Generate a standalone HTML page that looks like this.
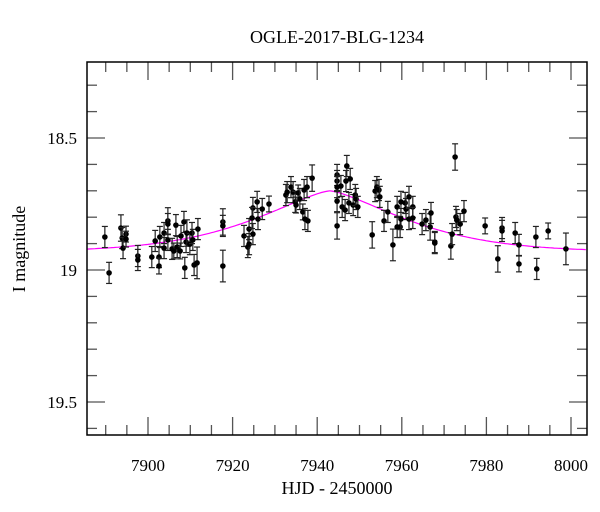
<!DOCTYPE html>
<html><head><meta charset="utf-8"><style>
html,body{margin:0;padding:0;background:#fff;}
svg{display:block;font-family:"Liberation Serif",serif;}
</style></head><body>
<svg id="chart" width="600" height="512" viewBox="0 0 600 512">
<text x="337" y="43" font-size="18" text-anchor="middle">OGLE-2017-BLG-1234</text>
<text x="337" y="494" font-size="18" text-anchor="middle">HJD - 2450000</text>
<text x="0" y="0" font-size="18" text-anchor="middle" transform="translate(25,249) rotate(-90)">I magnitude</text>
<g id="ticks"></g>
<g id="model"></g>
<g id="pts"></g>
<rect x="87" y="62" width="500" height="373" fill="none" stroke="#000" stroke-width="1.5"/>
</svg>
<script>
const days=[7889.8,7890.8,7893.6,7893.9,7894.1,7894.8,7894.8,7897.6,7897.6,7900.9,7901.7,7902.6,7902.6,7902.8,7903.8,7903.8,7904.7,7904.7,7904.7,7905.7,7906.1,7906.6,7906.9,7907.6,7907.8,7908.5,7908.7,7909.0,7909.2,7909.9,7910.4,7910.6,7910.9,7911.6,7911.8,7917.7,7917.7,7917.7,7922.7,7923.6,7923.9,7923.9,7924.8,7924.8,7924.6,7925.8,7926.0,7927.0,7928.6,7932.6,7932.9,7933.8,7934.3,7934.8,7935.0,7935.5,7935.9,7936.6,7936.9,7937.1,7937.6,7937.8,7938.8,7944.7,7944.7,7944.7,7944.7,7944.7,7945.6,7945.9,7946.6,7947.0,7946.8,7947.8,7947.5,7948.5,7949.0,7949.2,7949.6,7953.0,7953.7,7954.1,7954.6,7954.8,7955.8,7956.7,7957.9,7958.9,7958.9,7959.6,7959.8,7959.8,7960.8,7961.0,7961.7,7961.7,7962.6,7962.6,7964.8,7965.7,7966.7,7966.9,7967.8,7967.8,7971.6,7971.9,7972.6,7972.8,7973.0,7973.8,7974.7,7979.7,7982.7,7983.7,7983.7,7986.8,7987.7,7987.7,7991.7,7991.9,7994.6,7998.8];
const mags=[18.875,19.011,18.841,18.879,18.917,18.864,18.883,18.947,18.962,18.951,18.890,18.951,18.985,18.875,18.860,18.917,18.814,18.826,18.886,18.920,18.928,18.830,18.913,18.928,18.871,18.818,18.992,18.894,18.860,18.902,18.860,18.886,18.981,18.973,18.845,18.985,18.818,18.833,18.871,18.913,18.845,18.902,18.864,18.765,18.803,18.742,18.807,18.769,18.750,18.716,18.705,18.686,18.705,18.742,18.754,18.708,18.731,18.780,18.697,18.807,18.686,18.814,18.652,18.640,18.663,18.686,18.739,18.833,18.682,18.761,18.773,18.606,18.663,18.655,18.746,18.754,18.716,18.731,18.761,18.867,18.701,18.686,18.697,18.723,18.814,18.780,18.905,18.761,18.837,18.837,18.742,18.807,18.746,18.769,18.723,18.807,18.761,18.803,18.826,18.811,18.837,18.784,18.894,18.898,18.909,18.864,18.572,18.799,18.811,18.826,18.777,18.833,18.958,18.841,18.852,18.860,18.905,18.977,18.875,18.996,18.852,18.920];
const errs=[0.04,0.04,0.05,0.04,0.04,0.03,0.03,0.04,0.04,0.04,0.04,0.04,0.03,0.04,0.04,0.04,0.05,0.04,0.04,0.04,0.03,0.04,0.04,0.03,0.04,0.04,0.04,0.04,0.05,0.04,0.04,0.04,0.04,0.06,0.04,0.06,0.05,0.04,0.04,0.04,0.04,0.04,0.04,0.04,0.04,0.04,0.04,0.04,0.03,0.04,0.04,0.04,0.04,0.04,0.03,0.03,0.04,0.03,0.04,0.04,0.04,0.04,0.05,0.04,0.04,0.04,0.04,0.05,0.04,0.04,0.04,0.04,0.04,0.04,0.04,0.04,0.04,0.04,0.04,0.05,0.04,0.04,0.04,0.04,0.04,0.04,0.06,0.04,0.04,0.04,0.04,0.04,0.04,0.04,0.04,0.04,0.04,0.04,0.04,0.04,0.05,0.04,0.04,0.04,0.05,0.04,0.05,0.04,0.04,0.04,0.04,0.03,0.05,0.04,0.04,0.04,0.04,0.03,0.04,0.04,0.03,0.06];
const xTickLabels=[7900,7920,7940,7960,7980,8000];
const yTickLabels=[18.5,19,19.5];
const modelT0=[7943];
const modelBase=[18.93];
const modelAmp=[0.23];
const modelWidth=[25];

const NS="http://www.w3.org/2000/svg";
const X0=87,X1=587,Y0=62,Y1=435;
const xs=d=>148+(d-7900)*4.23;
const ys=m=>138+(m-18.5)*264;
function mk(tag,attrs,parent){const e=document.createElementNS(NS,tag);for(const k in attrs)e.setAttribute(k,attrs[k]);parent.appendChild(e);return e;}
const tk=document.getElementById('ticks');
for(let d=7890;d<=8000;d+=5){
  const x=xs(d);if(x<X0||x>X1)continue;
  const major=(d%20===0);const L=major?18:10;
  const a=mk('line',{x1:x,x2:x,y1:Y1,y2:Y1-L,stroke:'#555','stroke-width':1.3},tk);
  
  
  const b=mk('line',{x1:x,x2:x,y1:Y0,y2:Y0+L,stroke:'#555','stroke-width':1.3},tk);
  
  
}
xTickLabels.forEach(v=>{
  const t=mk('text',{x:xs(v),y:471,'font-size':17,'text-anchor':'middle'},tk);t.textContent=v;
  
  
});
for(let i=0;i<=16;i++){
  const m=18.2+i*0.1;const y=ys(m);if(y<Y0+2||y>Y1-2)continue;
  const major=Math.abs(m*2-Math.round(m*2))<1e-6;const L=major?18:10;
  const a=mk('line',{x1:X0,x2:X0+L,y1:y,y2:y,stroke:'#555','stroke-width':1.3},tk);
  
  
  const b=mk('line',{x1:X1,x2:X1-L,y1:y,y2:y,stroke:'#555','stroke-width':1.3},tk);
  
  
}
yTickLabels.forEach(v=>{
  const t=mk('text',{x:77,y:ys(v)+6,'font-size':17,'text-anchor':'end'},tk);t.textContent=v;
  
  
});
let dstr='';
for(let d=7885.5;d<=8003.5;d+=0.5){
  const u=Math.abs(d-modelT0[0])/modelWidth[0];
  const m=modelBase[0]-modelAmp[0]*Math.exp(-Math.pow(u,1.4));
  dstr+=(dstr?'L':'M')+xs(d).toFixed(1)+','+ys(m).toFixed(1);
}
const mp=mk('path',{d:dstr,fill:'none',stroke:'#ff00ff','stroke-width':1.2},document.getElementById('model'));


const pg=document.getElementById('pts');
days.forEach((d,i)=>{
  const x=xs(d),y=ys(mags[i]),e=errs[i]*264;
  const g=mk('g',{},pg);
  
  
  mk('line',{x1:x,x2:x,y1:y-e,y2:y+e,stroke:'#222','stroke-width':1.2},g);
  mk('line',{x1:x-3,x2:x+3,y1:y-e,y2:y-e,stroke:'#222','stroke-width':1.2},g);
  mk('line',{x1:x-3,x2:x+3,y1:y+e,y2:y+e,stroke:'#222','stroke-width':1.2},g);
  mk('circle',{cx:x,cy:y,r:2.8,fill:'#000'},g);
});
</script>
</body></html>
